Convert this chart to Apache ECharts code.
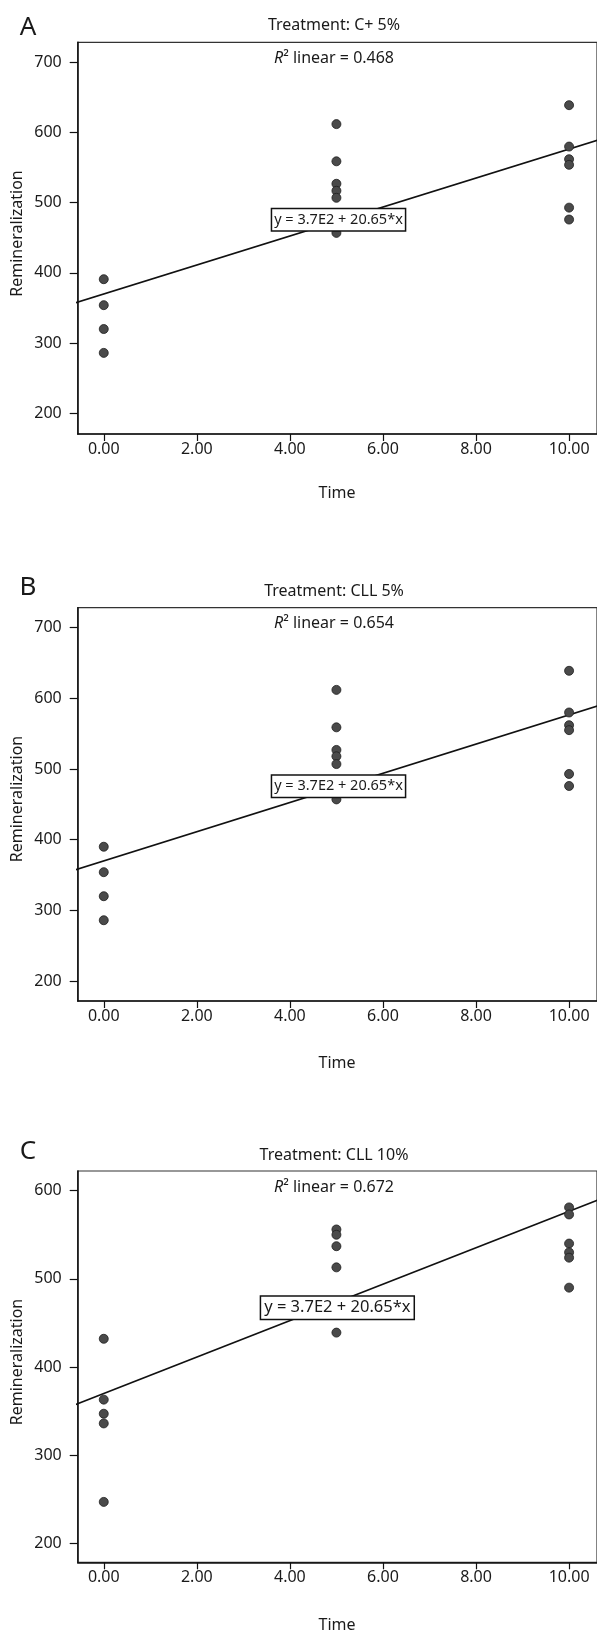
<!DOCTYPE html>
<html>
<head>
<meta charset="utf-8">
<script src="https://cdn.jsdelivr.net/npm/echarts@6/dist/echarts.min.js"></script>
<style>
  html, body { margin: 0; padding: 0; background: #ffffff; }
  #chart { width: 597px; height: 1631px; }
</style>
</head>
<body>
<div id="chart"></div>
<script>
// ---------------- data ----------------
const panelLetters = ['A', 'B', 'C'];
const treatments = ['Treatment: C+ 5%', 'Treatment: CLL 5%', 'Treatment: CLL 10%'];
const r2Values = ['0.468', '0.654', '0.672'];
const equationText = 'y = 3.7E2 + 20.65*x';
const fitIntercept = 370;
const fitSlope = 20.65;

const xTicks = [0, 2, 4, 6, 8, 10];
const yTicksAB = [200, 300, 400, 500, 600, 700];
const yTicksC = [200, 300, 400, 500, 600];

const timeA = [0, 0, 0, 0, 5, 5, 5, 5, 5, 5, 10, 10, 10, 10, 10, 10];
const remA  = [391, 354, 320, 286, 612, 559, 527, 517, 507, 457, 639, 580, 562, 554, 493, 476];
const timeB = [0, 0, 0, 0, 5, 5, 5, 5, 5, 5, 10, 10, 10, 10, 10, 10];
const remB  = [390, 354, 320, 286, 612, 559, 527, 518, 507, 457, 639, 580, 562, 555, 493, 476];
const timeC = [0, 0, 0, 0, 0, 5, 5, 5, 5, 5, 10, 10, 10, 10, 10, 10];
const remC  = [432, 363, 347, 336, 247, 556, 550, 537, 513, 439, 581, 573, 540, 530, 524, 490];

// ---------------- layout ----------------
const FONT = '"Noto Sans", "Open Sans", sans-serif';
const TXT = '#1a1a1a';
const X_MIN = -0.56, X_MAX = 10.6;
const panels = [
  { time: timeA, rem: remA, yTicks: yTicksAB, yMin: 170.4, yMax: 728.6, top: 42.3, height: 391.7,
    letterY: 27.5, titleY: 25, r2Y: 58, yNameY: 233.5, xNameY: 493, box: [5.045, 475.8], boxFont: 14.5 },
  { time: timeB, rem: remB, yTicks: yTicksAB, yMin: 171.7, yMax: 728.3, top: 607.7, height: 393.3,
    letterY: 588, titleY: 591.7, r2Y: 623.3, yNameY: 799, xNameY: 1063, box: [5.045, 475.6], boxFont: 14.5 },
  { time: timeC, rem: remC, yTicks: yTicksC, yMin: 178.5, yMax: 622.3, top: 1171, height: 391.3,
    letterY: 1151.7, titleY: 1155, r2Y: 1187.7, yNameY: 1362, xNameY: 1625, box: [5.02, 467.2], boxFont: 16.5 }
];

const grids = [], xAxes = [], yAxes = [], series = [], graphics = [];

panels.forEach((p, i) => {
  grids.push({
    left: 77.7, top: p.top, width: 521.5, height: p.height,
    show: true, borderColor: '#333', borderWidth: 1.2, backgroundColor: 'transparent'
  });
  xAxes.push({
    type: 'value', gridIndex: i, min: X_MIN, max: X_MAX,
    axisLine: { show: true, onZero: false, lineStyle: { color: '#111', width: 1.5 } },
    axisTick: { show: true, length: 7, customValues: xTicks, lineStyle: { color: '#111', width: 1.2 } },
    axisLabel: { customValues: xTicks, margin: 7, color: TXT, fontFamily: FONT, fontSize: 16,
      formatter: v => v.toFixed(2) },
    splitLine: { show: false }
  });
  yAxes.push({
    type: 'value', gridIndex: i, min: p.yMin, max: p.yMax,
    axisLine: { show: true, onZero: false, lineStyle: { color: '#111', width: 1.5 } },
    axisTick: { show: true, length: 8, customValues: p.yTicks, lineStyle: { color: '#111', width: 1.2 } },
    axisLabel: { customValues: p.yTicks, margin: 16, color: TXT, fontFamily: FONT, fontSize: 16 },
    splitLine: { show: false }
  });

  // regression line
  const lx0 = X_MIN - 0.1, lx1 = X_MAX + 0.1;
  series.push({
    type: 'line', xAxisIndex: i, yAxisIndex: i, silent: true, clip: true,
    showSymbol: false, symbol: 'none', z: 2,
    lineStyle: { color: '#111', width: 1.6 },
    data: [[lx0, fitIntercept + fitSlope * lx0], [lx1, fitIntercept + fitSlope * lx1]]
  });
  // points
  series.push({
    type: 'scatter', xAxisIndex: i, yAxisIndex: i, symbolSize: 9, z: 3,
    itemStyle: { color: '#4a4a4a', borderColor: '#1e1e1e', borderWidth: 0.8, opacity: 1 },
    data: p.time.map((t, k) => [t, p.rem[k]])
  });
  // equation box
  series.push({
    type: 'scatter', xAxisIndex: i, yAxisIndex: i, symbolSize: 0, z: 10, silent: true,
    itemStyle: { opacity: 1 },
    data: [p.box],
    label: {
      show: true, position: 'inside', formatter: equationText, opacity: 1,
      color: TXT, fontFamily: FONT, fontSize: p.boxFont,
      backgroundColor: '#ffffff', borderColor: '#111', borderWidth: 1.5,
      padding: i === 2 ? [3, 3, 2, 3] : [3, 2, 3, 2]
    }
  });

  graphics.push({
    type: 'text', x: 28, y: p.letterY, z: 20,
    style: { text: panelLetters[i], font: '26px ' + FONT, fill: TXT,
      textAlign: 'center', textVerticalAlign: 'middle', align: 'center', verticalAlign: 'middle' }
  });
  graphics.push({
    type: 'text', x: 334, y: p.titleY, z: 20,
    style: { text: treatments[i], font: '16px ' + FONT, fill: TXT,
      textAlign: 'center', textVerticalAlign: 'middle', align: 'center', verticalAlign: 'middle' }
  });
  graphics.push({
    type: 'text', x: 334, y: p.r2Y, z: 20,
    style: { text: '{i|R}\u00B2 linear = ' + r2Values[i], font: '16px ' + FONT, fill: TXT,
      rich: { i: { fontStyle: 'italic', fontFamily: FONT, fontSize: 16, fill: TXT, color: TXT } },
      textAlign: 'center', textVerticalAlign: 'middle', align: 'center', verticalAlign: 'middle' }
  });
  graphics.push({
    type: 'text', x: 17, y: p.yNameY, rotation: Math.PI / 2, z: 20,
    style: { text: 'Remineralization', font: '16px ' + FONT, fill: TXT,
      textAlign: 'center', textVerticalAlign: 'middle', align: 'center', verticalAlign: 'middle' }
  });
  graphics.push({
    type: 'text', x: 337, y: p.xNameY, z: 20,
    style: { text: 'Time', font: '16px ' + FONT, fill: TXT,
      textAlign: 'center', textVerticalAlign: 'middle', align: 'center', verticalAlign: 'middle' }
  });
});

const chart = echarts.init(document.getElementById('chart'), null, { renderer: 'canvas' });
chart.setOption({
  animation: false,
  backgroundColor: '#ffffff',
  textStyle: { fontFamily: FONT },
  grid: grids,
  xAxis: xAxes,
  yAxis: yAxes,
  series: series,
  graphic: { elements: graphics }
});
</script>
</body>
</html>
